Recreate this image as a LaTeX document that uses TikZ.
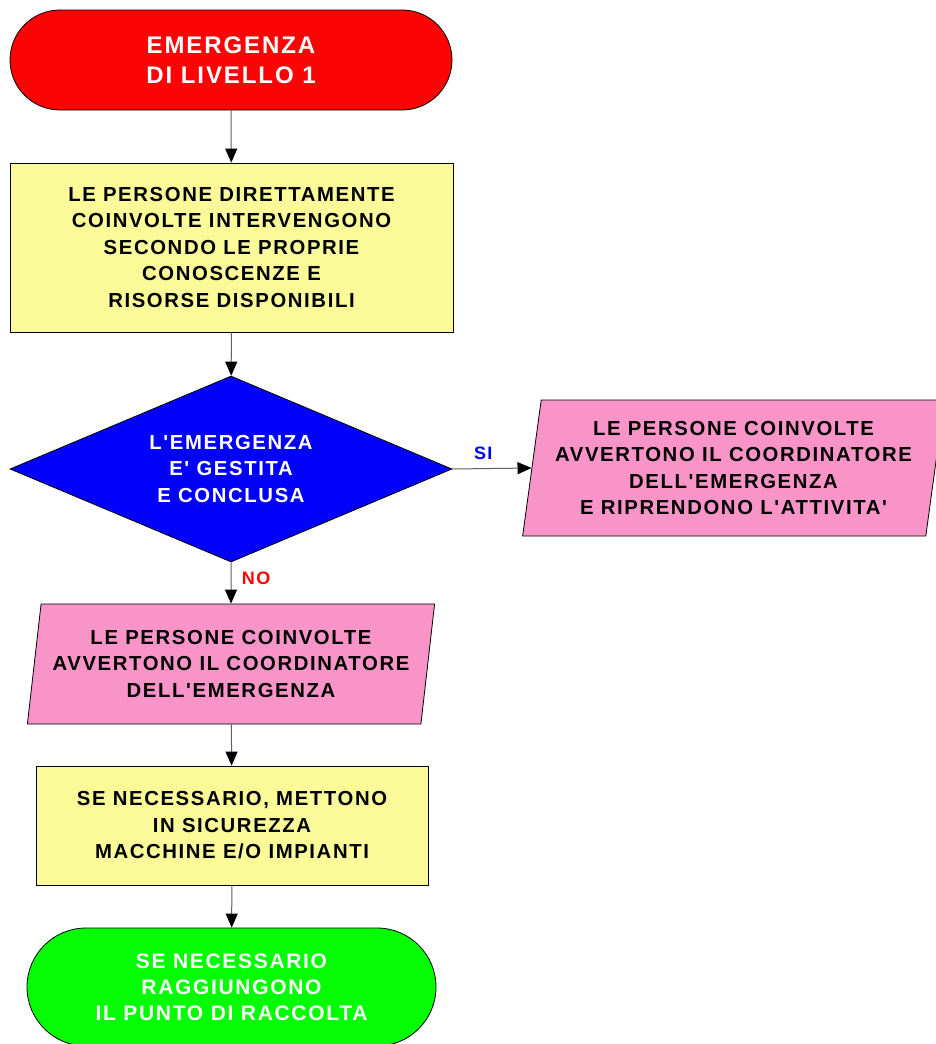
\documentclass[tikz,border=0pt]{standalone}
\usepackage{fontspec}
\newfontfamily\lab{Liberation Sans}[LetterSpace=8]
\usetikzlibrary{shapes.geometric,arrows.meta}
\definecolor{termred}{HTML}{FC0404}
\definecolor{boxyellow}{HTML}{FAFA98}
\definecolor{decblue}{HTML}{0000FC}
\definecolor{iopink}{HTML}{F994C9}
\definecolor{termgreen}{HTML}{04FC04}
\definecolor{linegray}{HTML}{606060}
\tikzset{
  txt/.style={align=center,font=\lab\bfseries\fontsize{20.3}{26.5}\selectfont},
  terminal/.style={txt,draw=black,line width=0.8pt,text=white,inner sep=0pt},
  procbox/.style={txt,draw=black,line width=0.8pt,fill=boxyellow,text=black,inner sep=0pt},
  decision/.style={txt,diamond,shape aspect=2.4,draw=black,line width=0.8pt,fill=decblue,text=white,inner sep=0pt},
  iobox/.style={txt,trapezium,trapezium stretches=true,draw=black,line width=0.8pt,fill=iopink,text=black,inner sep=0pt},
  flow/.style={draw=linegray,line width=1pt,-{Triangle[length=14pt,width=12pt,fill=black,color=black]}},
  branch/.style={font=\lab\bfseries\fontsize{18}{20}\selectfont},
}
\begin{document}
\begin{tikzpicture}[x=1pt,y=-1pt]
\clip (0,0) rectangle (936,1044);
\fill[white] (0,0) rectangle (936,1044);
\node[terminal,fill=termred,rounded corners=50pt,minimum width=442pt,minimum height=100pt,font=\lab\bfseries\fontsize{24}{30.5}\selectfont] (start) at (231,60) {EMERGENZA\\DI LIVELLO 1};
\node[procbox,minimum width=443pt,minimum height=169pt] (act) at (231.5,247.5) {LE PERSONE DIRETTAMENTE\\COINVOLTE INTERVENGONO\\SECONDO LE PROPRIE\\CONOSCENZE E\\RISORSE DISPONIBILI};
\node[decision,minimum width=442pt,minimum height=186pt] (dec) at (231,469) {L'EMERGENZA\\E' GESTITA\\E CONCLUSA};
\node[iobox,trapezium left angle=79.6,trapezium right angle=100.4,minimum width=423pt,minimum height=136pt] (yes) at (733.5,468) {LE PERSONE COINVOLTE\\AVVERTONO IL COORDINATORE\\DELL'EMERGENZA\\E RIPRENDONO L'ATTIVITA'};
\node[iobox,trapezium left angle=79.2,trapezium right angle=100.8,minimum width=408pt,minimum height=120pt] (warn) at (231,664) {LE PERSONE COINVOLTE\\AVVERTONO IL COORDINATORE\\DELL'EMERGENZA};
\node[procbox,minimum width=392pt,minimum height=119pt] (safe) at (232,825.5) {SE NECESSARIO, METTONO\\IN SICUREZZA\\MACCHINE E/O IMPIANTI};
\node[terminal,fill=termgreen,rounded corners=59pt,minimum width=409pt,minimum height=118pt,font=\lab\bfseries\fontsize{21}{26}\selectfont] (end) at (231.5,987) {SE NECESSARIO\\RAGGIUNGONO\\IL PUNTO DI RACCOLTA};
\draw[flow] (start) -- (act);
\draw[flow] (act) -- (dec);
\draw[flow] (dec.east) -- (yes.west) node[branch,text=decblue,pos=0.39,above=5pt] (si) {SI};
\draw[flow] (dec.south) -- (warn.north) node[branch,text=termred,pos=0.38,right=7pt] (no) {NO};
\draw[flow] (warn) -- (safe);
\draw[flow] (safe) -- (end);
\end{tikzpicture}
\end{document}
